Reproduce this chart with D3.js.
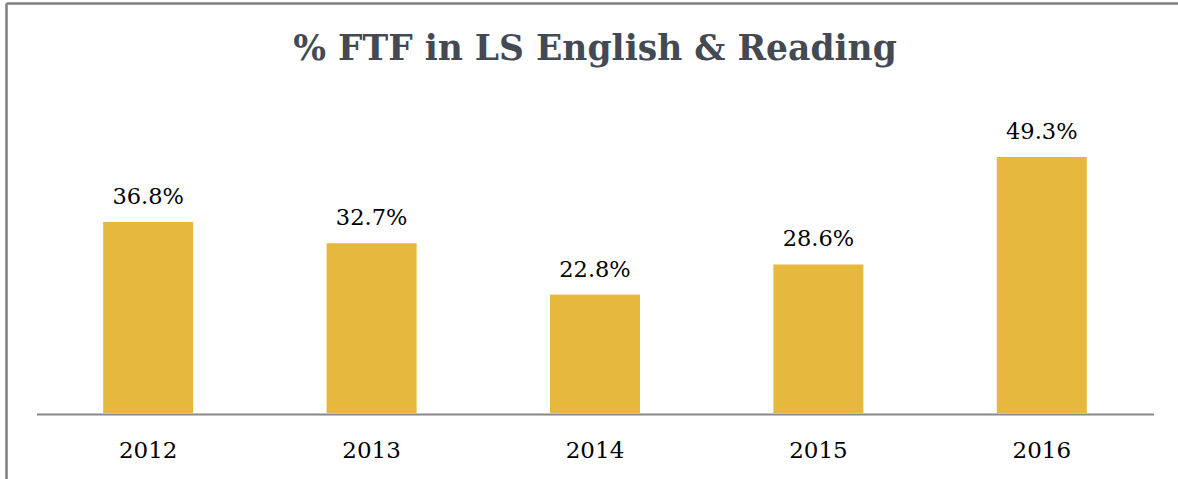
<!DOCTYPE html>
<html>
<head>
<meta charset="utf-8">
<script src="https://cdn.jsdelivr.net/npm/d3@7"></script>
<style>
  body { margin: 0; background: #fff; }
  svg { display: block; }
</style>
</head>
<body>
<svg width="1178" height="479"></svg>
<script>
// données
let annees = ["2012", "2013", "2014", "2015", "2016"];
let valeurs = [36.8, 32.7, 22.8, 28.6, 49.3];
let titre = "% FTF in LS English & Reading";

let svg = d3.select("svg");

// cadre (haut + gauche)
svg.append("line")
    .attr("x1", 6.5).attr("y1", 3.5)
    .attr("x2", 1178).attr("y2", 3.5)
    .attr("stroke", "#7f7f7f")
    .attr("stroke-width", 2.5);

svg.append("line")
    .attr("x1", 6.5).attr("y1", 3.5)
    .attr("x2", 6.5).attr("y2", 479)
    .attr("stroke", "#7f7f7f")
    .attr("stroke-width", 2.5);

// titre
svg.append("text")
    .attr("x", 595)
    .attr("y", 60)
    .attr("text-anchor", "middle")
    .style("font-family", "'DejaVu Serif', serif")
    .style("font-weight", "bold")
    .style("font-size", "34.5px")
    .style("fill", "#434a54")
    .text(titre);

// échelles
let x = d3.scaleBand()
    .domain(annees)
    .range([36.5, 1153.5])
    .paddingInner(0.597)
    .paddingOuter(0.2985);

let y = d3.scaleLinear()
    .domain([0, 49.3])
    .range([413, 157]);

// barres
svg.selectAll("rect.barre")
    .data(valeurs)
    .enter()
    .append("rect")
    .attr("class", "barre")
    .attr("x", (d, i) => x(annees[i]))
    .attr("y", d => y(d))
    .attr("width", x.bandwidth())
    .attr("height", d => y(0) - y(d))
    .style("fill", "#e6b93e");

// étiquettes de valeurs
svg.selectAll("text.valeur")
    .data(valeurs)
    .enter()
    .append("text")
    .attr("class", "valeur")
    .attr("x", (d, i) => x(annees[i]) + x.bandwidth() / 2)
    .attr("y", d => y(d) - 18)
    .attr("text-anchor", "middle")
    .style("font-family", "'DejaVu Serif', serif")
    .style("font-size", "22.5px")
    .style("fill", "#000")
    .text(d => d.toFixed(1) + "%");

// axe des x
let axe = svg.append("g")
    .attr("transform", "translate(0," + 414 + ")")
    .call(d3.axisBottom(x).tickSize(0).tickPadding(28));

axe.select(".domain")
    .attr("stroke", "#888")
    .attr("stroke-width", 2);

axe.selectAll("text")
    .style("font-family", "'DejaVu Serif', serif")
    .style("font-size", "23px")
    .style("fill", "#000");
</script>
</body>
</html>
